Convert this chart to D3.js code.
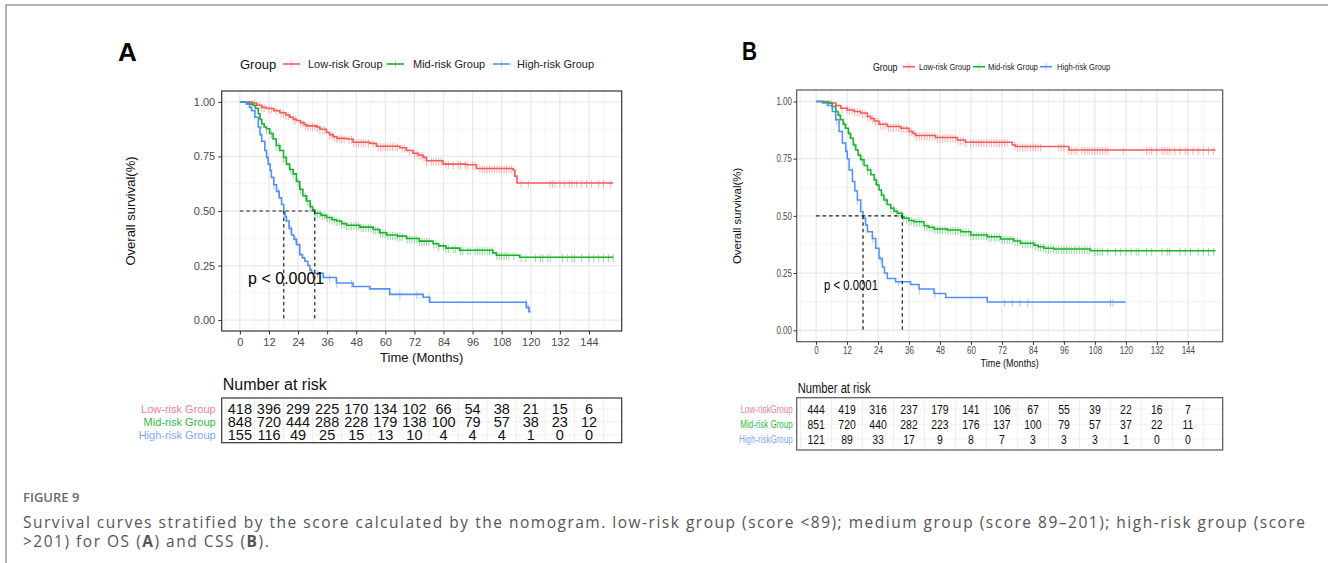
<!DOCTYPE html>
<html><head><meta charset="utf-8">
<script src="https://cdn.jsdelivr.net/npm/d3@7/dist/d3.min.js"></script>
<style>body{margin:0;background:#fff;} svg{display:block;}</style>
</head><body><svg id="c" width="1328" height="563"></svg>
<script>
// ---------------- DATA ----------------
const groupNames = ["Low-risk Group", "Mid-risk Group", "High-risk Group"];
const tableLabelsA = ["Low-risk Group", "Mid-risk Group", "High-risk Group"];
const tableLabelsB = ["Low-riskGroup", "Mid-risk Group", "High-riskGroup"];
const timeBreaks = [0, 12, 24, 36, 48, 60, 72, 84, 96, 108, 120, 132, 144];
const survBreaks = [0, 0.25, 0.5, 0.75, 1];

// Panel A (OS): step knots [time, survival]
const osLow = [[0,1],[5,0.995],[7,0.985],[9,0.975],[11,0.97],[14,0.96],[16.5,0.95],[19,0.94],[20.6,0.93],[22,0.92],[23.4,0.915],[25,0.905],[26.5,0.895],[27.5,0.89],[31.6,0.885],[33,0.875],[35.7,0.86],[37,0.85],[38.5,0.84],[40,0.833],[44,0.83],[46.7,0.815],[53.6,0.81],[56.3,0.797],[66,0.79],[68.7,0.777],[71.4,0.765],[73.5,0.757],[75.6,0.746],[77,0.73],[83.8,0.715],[93.4,0.712],[97.6,0.695],[112.7,0.688],[113.4,0.66],[114.3,0.628]];
const osMid = [[0,1],[2.7,0.995],[4,0.99],[5.5,0.985],[6.5,0.97],[7.6,0.946],[8.3,0.92],[9,0.9],[10,0.885],[11,0.877],[12.3,0.855],[13.7,0.83],[15,0.8],[16.5,0.777],[18,0.745],[19.2,0.715],[20.5,0.69],[22,0.67],[23.3,0.635],[24.7,0.6],[26,0.57],[27.5,0.546],[29,0.52],[30,0.505],[30.9,0.49],[33.5,0.48],[35.7,0.47],[38,0.46],[39.8,0.454],[42,0.442],[44,0.435],[49.5,0.426],[55,0.415],[57.7,0.4],[60.5,0.39],[65,0.385],[68.7,0.374],[74,0.362],[79.7,0.35],[82,0.34],[85,0.33],[90.7,0.32],[104.4,0.308],[105.8,0.297],[115.4,0.288]];
const osHigh = [[0,1],[2.7,0.99],[4,0.975],[4.8,0.96],[6.2,0.93],[7.6,0.885],[8.3,0.85],[9,0.82],[10.3,0.777],[11,0.745],[11.7,0.715],[12.5,0.685],[13,0.654],[14,0.62],[15.1,0.59],[16.2,0.56],[17.2,0.53],[18.1,0.495],[18.6,0.475],[19.2,0.454],[20.3,0.42],[21.3,0.39],[22.3,0.37],[23.4,0.346],[24.7,0.3],[25.8,0.285],[26.8,0.27],[28,0.25],[28.9,0.23],[29.5,0.215],[34.4,0.195],[39.8,0.17],[46.7,0.154],[53.6,0.143],[61.8,0.118],[75.6,0.105],[78.3,0.082],[118.2,0.057],[119.3,0.038]];
const osEnd = [154, 154, 120];
const osLowCens = [6,8,9,10,12,13,15,17,18,19,20,22,23,25,26,27,28,29,30,31,32,33,34,35,37,38,39,40,41,42,43,45,46,47,48,49,50,51,52,53,55,57,58,59,60,61,62,63,64,65,67,68,70,72,73,74,75,76,77,79,80,81,82,83,85,86,88,90,91,93,94,96,97,99,100,101,102,103,104,105,106,107,108,109,110,111,112,116,119,128,129,130,132,134,136,137,139,141,143,145,148,150,153];
const osMidCens = [9,11,13,15,16,18,19,21,22,24,25,27,28,29,31,32,33,34,35,36,37,38,39,40,41,42,43,44,45,46,47,48,49,50,51,52,53,54,55,56,57,58,59,60,61,62,63,64,65,66,67,69,70,71,72,73,74,75,76,77,78,80,81,82,84,85,86,88,89,91,92,94,95,97,98,99,100,101,102,103,104,106,107,108,109,110,111,113,116,118,122,124,125,127,128,133,135,137,138,141,144,146,148,150,152,154];
const osHighCens = [11.5,14,16,19,21,23,30,32,37,40,46,66,73,78,118,119];
const osMedians = [18.1, 30.9];
const osRiskLow = [418,396,299,225,170,134,102,66,54,38,21,15,6];
const osRiskMid = [848,720,444,288,228,179,138,100,79,57,38,23,12];
const osRiskHigh = [155,116,49,25,15,13,10,4,4,4,1,0,0];

// Panel B (CSS)
const cssLow = [[0,1],[5,0.993],[7.6,0.982],[9.5,0.97],[12.1,0.963],[14.7,0.956],[17.3,0.949],[19.9,0.934],[21.2,0.925],[22.5,0.915],[24.4,0.9],[27.6,0.89],[32.8,0.883],[36,0.869],[37.5,0.86],[38.6,0.851],[46.3,0.842],[54.7,0.832],[57.9,0.822],[76,0.81],[77.3,0.803],[97.9,0.788]];
const cssMid = [[0,1],[3,0.997],[5,0.993],[6.3,0.978],[7.6,0.956],[8.5,0.94],[9.5,0.92],[10.5,0.9],[11.5,0.883],[12.5,0.86],[13.4,0.839],[14.4,0.81],[15.4,0.788],[16.3,0.765],[17.3,0.745],[18.6,0.72],[19.9,0.7],[21.2,0.68],[22.5,0.657],[23.4,0.635],[24.4,0.613],[25.3,0.59],[26.3,0.569],[27.6,0.55],[28.9,0.533],[30.2,0.52],[31.5,0.511],[33.4,0.495],[34.1,0.489],[36,0.48],[37.9,0.474],[41.8,0.457],[43.5,0.45],[45.7,0.442],[50.8,0.438],[56,0.431],[59.9,0.416],[66.3,0.409],[71.5,0.399],[76.6,0.39],[79.2,0.38],[84.4,0.372],[86,0.365],[88.3,0.358],[92.1,0.355],[106.3,0.347]];
const cssHigh = [[0,1],[2.5,0.993],[4.4,0.982],[6.3,0.956],[7.6,0.92],[8.9,0.869],[10.2,0.818],[11.5,0.781],[12.1,0.75],[12.8,0.7],[14.1,0.65],[15,0.61],[16,0.569],[17.3,0.518],[18.2,0.489],[19.2,0.46],[19.9,0.431],[21.8,0.401],[23.1,0.358],[24.4,0.314],[25.7,0.277],[26.5,0.25],[27.6,0.226],[30.8,0.212],[36.6,0.2],[39.9,0.18],[45.7,0.161],[50.2,0.143],[66.3,0.124]];
const cssEnd = [154.7, 154.7, 119.9];
const cssLowCens = [6,8,10,12,13,14,15,16,17,18,19,20,21,22,23,24,25,26,27,28,29,30,31,32,33,34,35,36,37,38,39,40,41,42,43,44,45,46,47,48,49,50,51,52,53,54,55,56,57,58,60,61,62,63,64,65,66,67,68,69,70,71,72,73,74,77,78,79,80,81,82,83,84,85,86,87,94,95,96,98,99,100,101,103,104,105,106,107,108,109,110,111,112,113,119,128,129,130,132,134,135,136,137,139,141,143,144,146,148,150,152,154];
const cssMidCens = [9,11,13,15,17,18,20,21,23,24,26,27,29,30,31,32,33,34,35,36,37,38,39,40,41,42,43,44,45,46,47,48,49,50,51,52,53,54,55,56,57,58,59,60,61,62,63,64,65,66,67,68,69,70,71,72,73,74,75,76,77,78,79,80,81,82,83,84,85,86,87,88,89,90,91,92,93,94,95,96,97,98,99,100,101,102,103,104,105,106,108,109,110,111,113,116,118,120,122,124,125,128,130,134,136,137,141,143,145,148,150,152,154];
const cssHighCens = [8,12,14,16,19,22,25,32,40,46,73,76,79,82,114,115,120];
const cssMedians = [18.2, 33.4];
const cssRiskLow = [444,419,316,237,179,141,106,67,55,39,22,16,7];
const cssRiskMid = [851,720,440,282,223,176,137,100,79,57,37,22,11];
const cssRiskHigh = [121,89,33,17,9,8,7,3,3,3,1,0,0];

const lineColors = ["#F45B5B", "#19B22F", "#4F8FF7"];
const labelColors = ["#F8828A", "#2DBB3E", "#7FA5FF"];

// ---------------- DRAWING ----------------
const FONT = "'Liberation Sans', Arial, Helvetica, sans-serif";
const svg = d3.select("#c");
svg.append("rect").attr("width", 1328).attr("height", 563).attr("fill", "#fff");
svg.append("path").attr("d", "M6,563V5H1328").attr("fill", "none").attr("stroke", "#9a9a9a").attr("stroke-width", 1.5);

function sq(sel, f) {
  if (!f || f === 1) return;
  sel.each(function () {
    const w = this.getComputedTextLength();
    this.setAttribute("textLength", w * f);
    this.setAttribute("lengthAdjust", "spacingAndGlyphs");
  });
}
function stepVal(knots, t) {
  let v = knots[0][1];
  for (const k of knots) { if (k[0] <= t) v = k[1]; else break; }
  return v;
}
function txt(g, x, y, s, size, opts = {}) {
  const t = g.append("text").attr("x", x).attr("y", y).text(s)
    .attr("font-family", opts.family || FONT).attr("font-size", size)
    .attr("fill", opts.fill || "#000").attr("text-anchor", opts.anchor || "start");
  if (opts.weight) t.attr("font-weight", opts.weight);
  sq(t, opts.sq);
  return t;
}

function panel(o) {
  const g = svg.append("g");
  const x = d3.scaleLinear().domain([-7.5, 157.5]).range([o.L, o.R]);
  const y = d3.scaleLinear().domain([-0.05, 1.05]).range([o.B, o.T]);

  // letter
  txt(g, o.letter.x, o.letter.y, o.letter.s, 26, { weight: "bold", sq: o.sq });

  // legend
  txt(g, o.leg.titleX, o.leg.y + o.leg.tSize * 0.35, "Group", o.leg.tSize, { fill: "#111", sq: o.sq });
  groupNames.forEach((nm, i) => {
    const kx = o.leg.keys[i];
    g.append("line").attr("x1", kx).attr("x2", kx + o.leg.kw).attr("y1", o.leg.y).attr("y2", o.leg.y)
      .attr("stroke", lineColors[i]).attr("stroke-width", 1.6);
    g.append("line").attr("x1", kx + o.leg.kw / 2).attr("x2", kx + o.leg.kw / 2).attr("y1", o.leg.y - 4).attr("y2", o.leg.y + 4)
      .attr("stroke", lineColors[i]).attr("stroke-width", 1).attr("opacity", 0.35);
    txt(g, o.leg.labels[i], o.leg.y + o.leg.lSize * 0.35, nm, o.leg.lSize, { fill: "#222", sq: o.sq });
  });

  // grid
  const minorX = [-6].concat(timeBreaks.map(t => t + 6));
  const minorY = [0.125, 0.375, 0.625, 0.875];
  const grid = g.append("g");
  minorX.forEach(t => grid.append("line").attr("x1", x(t)).attr("x2", x(t)).attr("y1", o.T).attr("y2", o.B).attr("stroke", "#f3f3f3").attr("stroke-width", 0.9));
  minorY.forEach(v => grid.append("line").attr("x1", o.L).attr("x2", o.R).attr("y1", y(v)).attr("y2", y(v)).attr("stroke", "#f3f3f3").attr("stroke-width", 0.9));
  timeBreaks.forEach(t => grid.append("line").attr("x1", x(t)).attr("x2", x(t)).attr("y1", o.T).attr("y2", o.B).attr("stroke", "#e9e9e9").attr("stroke-width", 1.3));
  survBreaks.forEach(v => grid.append("line").attr("x1", o.L).attr("x2", o.R).attr("y1", y(v)).attr("y2", y(v)).attr("stroke", "#e9e9e9").attr("stroke-width", 1.3));

  // curves
  const line = d3.line().x(d => x(d[0])).y(d => y(d[1])).curve(d3.curveStepAfter);
  o.curves.forEach((kn, i) => {
    const data = kn.concat([[o.ends[i], kn[kn.length - 1][1]]]);
    o.cens[i].filter(t => t <= o.ends[i]).forEach(t => {
      const yy = y(stepVal(kn, t));
      g.append("line").attr("x1", x(t)).attr("x2", x(t)).attr("y1", yy - o.cH / 2 + 1).attr("y2", yy + o.cH / 2 + 1)
        .attr("stroke", lineColors[i]).attr("stroke-width", 1).attr("opacity", 0.45);
    });
    g.append("path").attr("d", line(data)).attr("fill", "none").attr("stroke", lineColors[i]).attr("stroke-width", o.lw);
  });

  // medians
  const dash = g.append("g").attr("stroke", "#222").attr("stroke-width", 1.2).attr("stroke-dasharray", "3.5,3");
  dash.append("line").attr("x1", x(0)).attr("x2", x(d3.max(o.medians))).attr("y1", y(0.5)).attr("y2", y(0.5));
  o.medians.forEach(m => dash.append("line").attr("x1", x(m)).attr("x2", x(m)).attr("y1", y(0.5)).attr("y2", y(0)));

  // p value
  txt(g, x(o.p.t), y(o.p.v) + o.p.size * 0.35, "p < 0.0001", o.p.size, { sq: o.p.sq });

  // border
  g.append("rect").attr("x", o.L).attr("y", o.T).attr("width", o.R - o.L).attr("height", o.B - o.T)
    .attr("fill", "none").attr("stroke", o.border).attr("stroke-width", 1.2);

  // axes
  const ya = g.append("g").attr("transform", `translate(${o.L},0)`)
    .call(d3.axisLeft(y).tickValues(survBreaks).tickFormat(d3.format(".2f")).tickSize(o.tk).tickPadding(o.yPad));
  const xa = g.append("g").attr("transform", `translate(0,${o.B})`)
    .call(d3.axisBottom(x).tickValues(timeBreaks).tickFormat(d3.format("d")).tickSize(o.tk).tickPadding(o.xPad));
  [ya, xa].forEach(a => {
    a.select(".domain").remove();
    a.selectAll(".tick line").attr("stroke", "#333");
    a.selectAll("text").attr("font-family", FONT).attr("font-size", o.tickSize).attr("fill", "#4a4a4a");
    sq(a.selectAll("text"), o.sq);
  });

  // axis titles
  txt(g, (o.L + o.R) / 2, o.xTitle.y, "Time (Months)", o.xTitle.size, { anchor: "middle", fill: "#111", sq: o.xTitle.sq });
  g.append("text").attr("transform", `translate(${o.yTitle.x},${(o.T + o.B) / 2}) rotate(-90)`)
    .attr("text-anchor", "middle").attr("dy", "0.35em").attr("font-family", FONT).attr("font-size", o.yTitle.size)
    .attr("fill", "#111").text("Overall survival(%)");

  // risk table
  const tb = o.table;
  txt(g, o.L + 1, tb.titleY, "Number at risk", tb.titleSize, { fill: "#111", sq: o.sq });
  const tg = g.append("g");
  minorX.concat(timeBreaks).forEach(t => tg.append("line").attr("x1", x(t)).attr("x2", x(t)).attr("y1", tb.T).attr("y2", tb.B).attr("stroke", "#eeeeee").attr("stroke-width", 1));
  tb.rows.forEach(ry => tg.append("line").attr("x1", o.L).attr("x2", o.R).attr("y1", ry).attr("y2", ry).attr("stroke", "#f0f0f0").attr("stroke-width", 1));
  tb.data.forEach((row, i) => {
    row.forEach((n, j) => txt(g, x(timeBreaks[j]), tb.rows[i] + tb.numSize * 0.36, String(n), tb.numSize, { anchor: "middle", fill: "#111", sq: o.sq }));
    txt(g, o.L - tb.labelGap, tb.rows[i] + tb.labSize * 0.35, tb.labels[i], tb.labSize, { anchor: "end", fill: labelColors[i], sq: o.sq });
  });
  g.append("rect").attr("x", o.L).attr("y", tb.T).attr("width", o.R - o.L).attr("height", tb.B - tb.T)
    .attr("fill", "none").attr("stroke", o.border).attr("stroke-width", 1.2);
}

panel({
  L: 221.7, R: 621.7, T: 91, B: 331, border: "#333", lw: 1.6, cH: 8, sq: 1,
  letter: { x: 118, y: 61, s: "A" },
  leg: { y: 64, titleX: 240, tSize: 13, lSize: 11, kw: 17, keys: [283, 387, 493], labels: [308, 413, 517] },
  curves: [osLow, osMid, osHigh], ends: osEnd, cens: [osLowCens, osMidCens, osHighCens], medians: osMedians,
  p: { t: 3.4, v: 0.19, size: 16, sq: 1 },
  tk: 3.5, yPad: 3, xPad: 4, tickSize: 11,
  xTitle: { y: 362, size: 13, sq: 1 }, yTitle: { x: 130, size: 13 },
  table: { titleY: 389.5, titleSize: 16, T: 398, B: 442.7, rows: [409, 421.7, 435], numSize: 14.5, labSize: 11, labelGap: 6,
    data: [osRiskLow, osRiskMid, osRiskHigh], labels: tableLabelsA }
});

panel({
  L: 796.7, R: 1222.7, T: 90, B: 341.7, border: "#555", lw: 1.5, cH: 8, sq: 0.8,
  letter: { x: 742, y: 60, s: "B" },
  leg: { y: 66.7, titleX: 873, tSize: 11, lSize: 9.5, kw: 12, keys: [903, 973, 1040], labels: [919, 988, 1057] },
  curves: [cssLow, cssMid, cssHigh], ends: cssEnd, cens: [cssLowCens, cssMidCens, cssHighCens], medians: cssMedians,
  p: { t: 3.1, v: 0.197, size: 14, sq: 0.81 },
  tk: 3.2, yPad: 1.5, xPad: 2.5, tickSize: 10,
  xTitle: { y: 367, size: 11.5, sq: 0.79 }, yTitle: { x: 736.7, size: 11.5 },
  table: { titleY: 392.5, titleSize: 14, T: 397.7, B: 450, rows: [409, 424.3, 439], numSize: 13, labSize: 10, labelGap: 4,
    data: [cssRiskLow, cssRiskMid, cssRiskHigh], labels: tableLabelsB }
});

// ---------------- CAPTION ----------------
const CAP = "'Open Sans', 'Noto Sans', sans-serif";
const CAPSIZE = 15.5;
svg.append("text").attr("x", 23).attr("y", 501.5).attr("font-family", CAP).attr("font-size", 13).attr("font-weight", 600)
  .attr("fill", "#6b6b6b").text("FIGURE 9");
const cap1 = "Survival curves stratified by the score calculated by the nomogram. low-risk group (score <89); medium group (score 89\u2013201); high-risk group (score";
const l1 = svg.append("text").attr("x", 23).attr("y", 528).attr("font-family", CAP).attr("font-size", CAPSIZE).attr("fill", "#555")
  .text(cap1);
const w1 = l1.node().getComputedTextLength();
const ls = (1282 - w1) / (cap1.length - 1);
l1.attr("letter-spacing", ls);
const l2 = svg.append("text").attr("x", 23).attr("y", 547).attr("font-family", CAP).attr("font-size", CAPSIZE).attr("fill", "#555")
  .attr("letter-spacing", ls);
l2.append("tspan").text(">201) for OS (");
l2.append("tspan").attr("font-weight", "bold").text("A");
l2.append("tspan").text(") and CSS (");
l2.append("tspan").attr("font-weight", "bold").text("B");
l2.append("tspan").text(").");
</script></body></html>
